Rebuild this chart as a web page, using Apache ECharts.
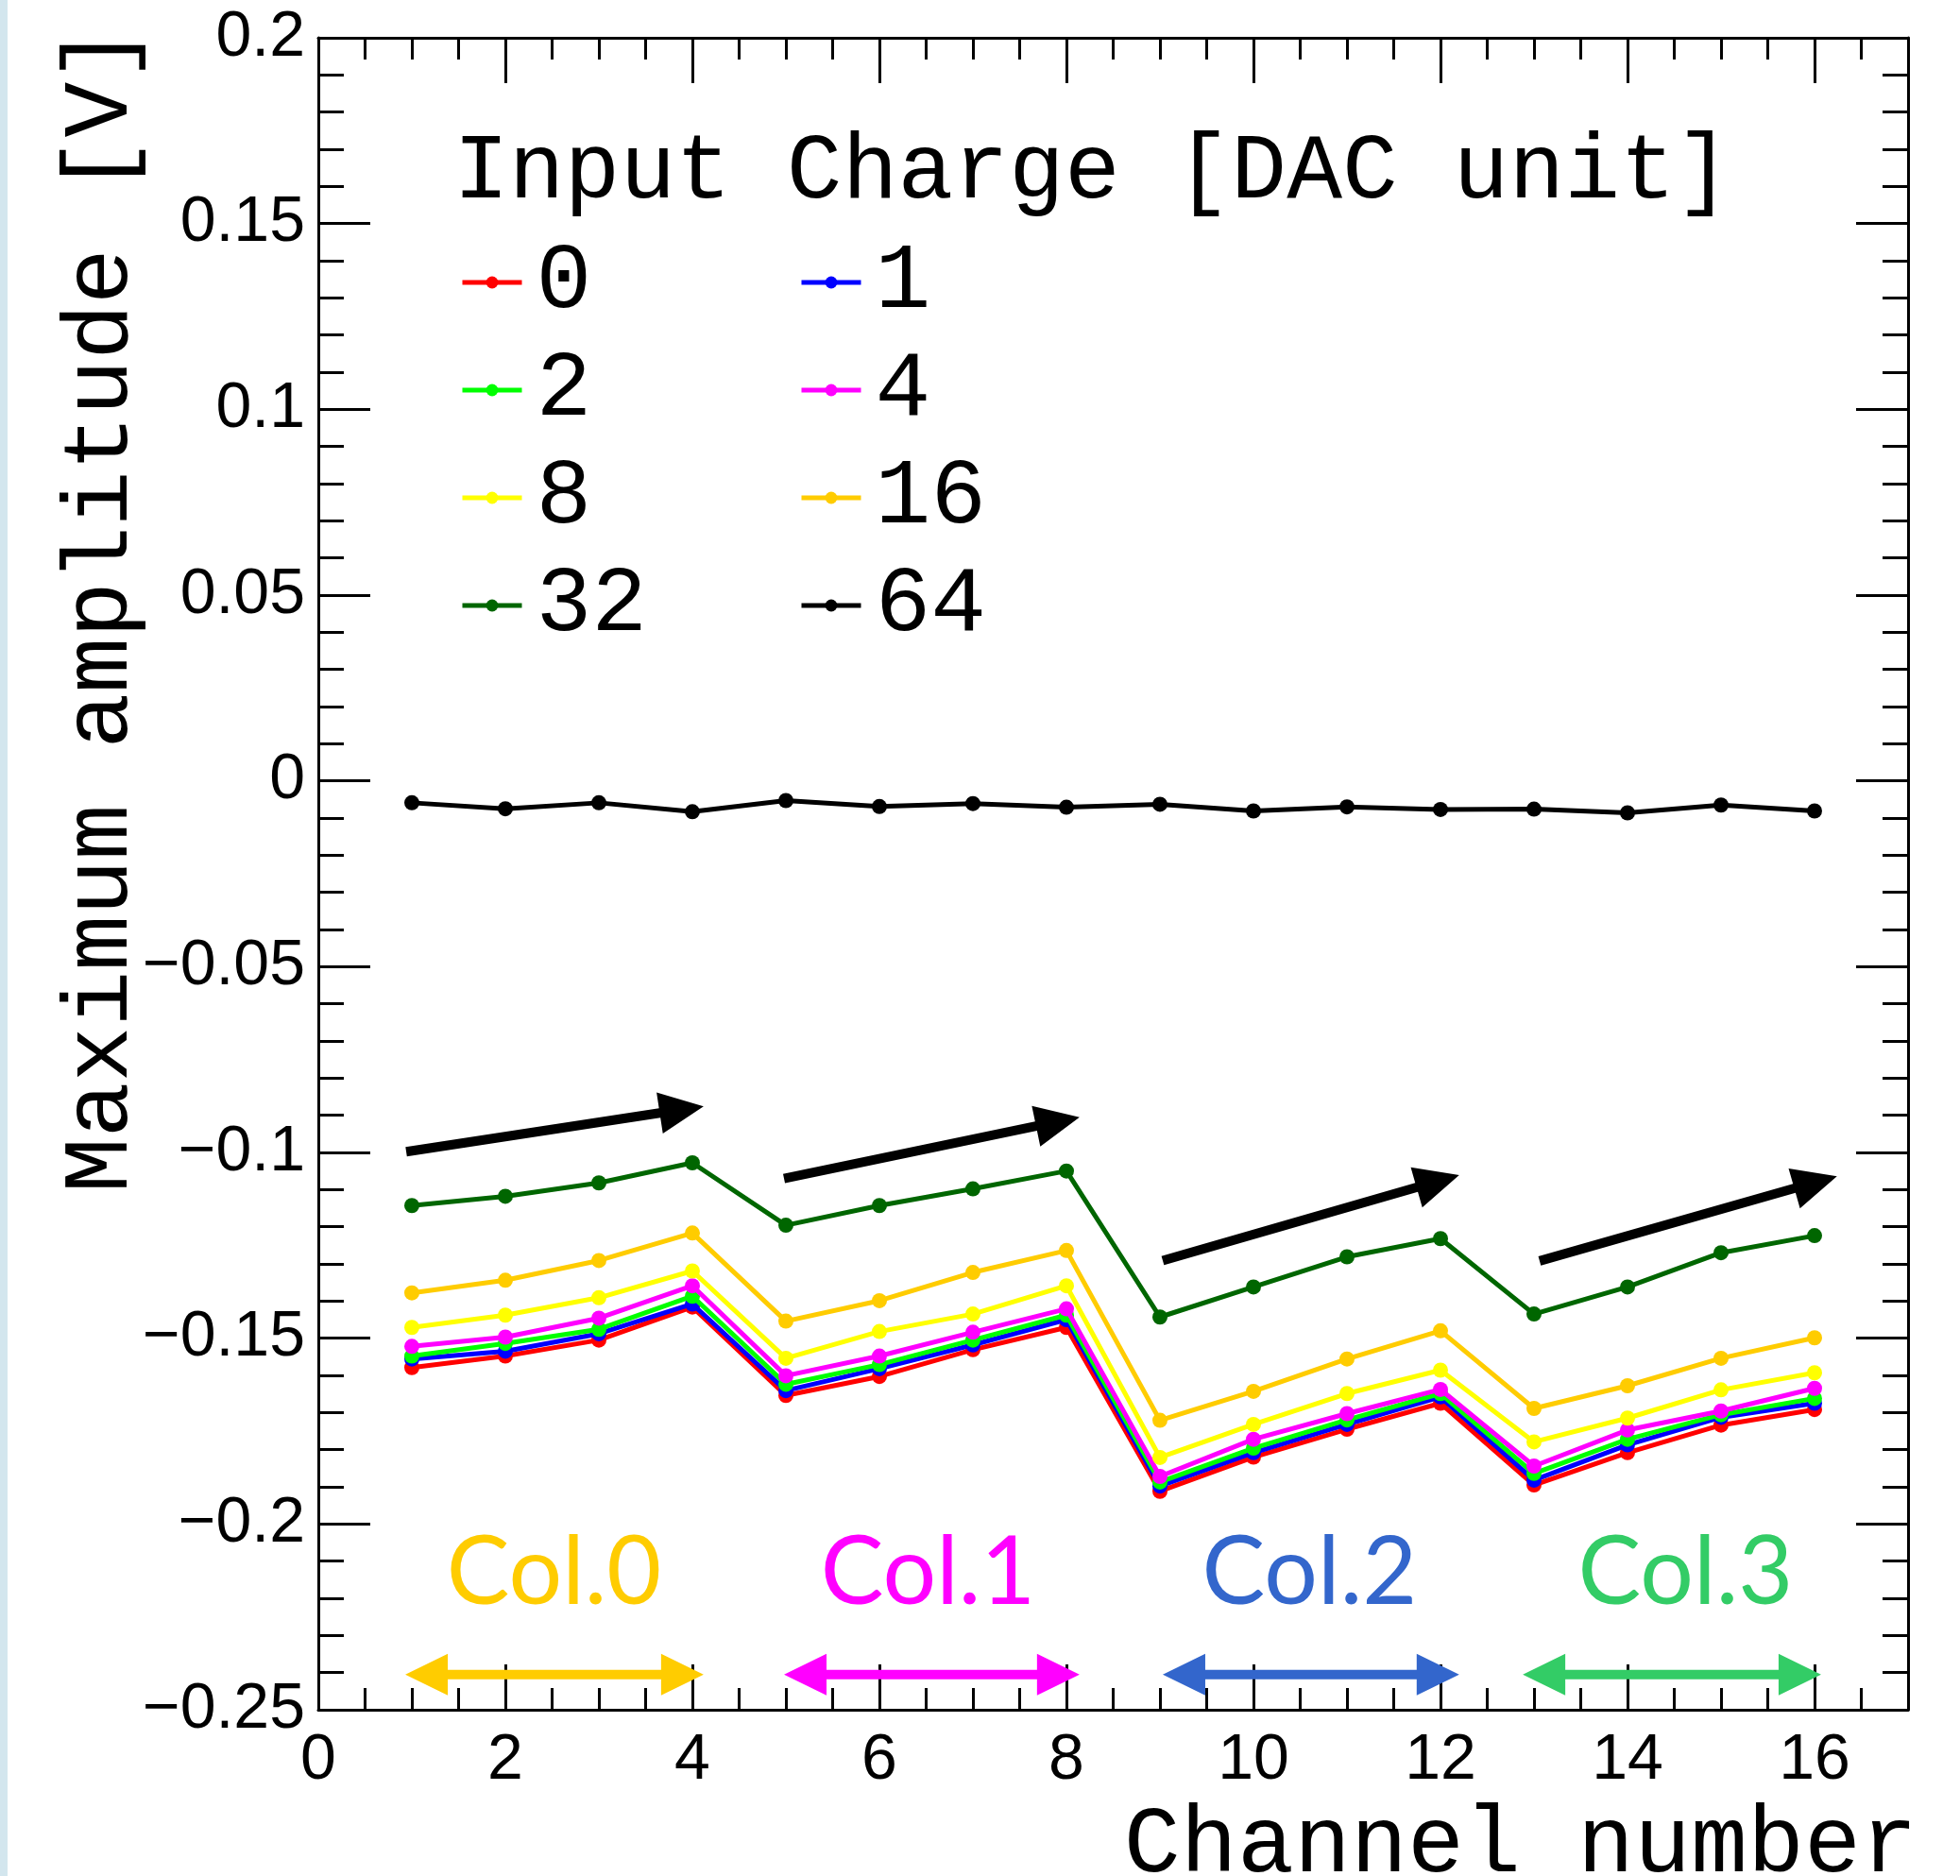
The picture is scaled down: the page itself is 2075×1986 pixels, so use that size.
<!DOCTYPE html>
<html><head><meta charset="utf-8">
<script src="https://cdn.jsdelivr.net/npm/echarts@6/dist/echarts.min.js"></script>
<style>html,body{margin:0;padding:0;background:#fff}#c{width:2075px;height:1986px}</style>
</head><body><div id="c"></div>
<script>
// ---- data ----
const channels = [1,2,3,4,5,6,7,8,9,10,11,12,13,14,15,16];
const chargeNames = ['0','1','2','4','8','16','32','64'];
const q0  = [-0.1579,-0.1548,-0.1505,-0.1416,-0.1654,-0.1603,-0.1531,-0.1471,-0.1912,-0.1820,-0.1745,-0.1675,-0.1895,-0.1808,-0.1734,-0.1692];
const q1  = [-0.1556,-0.1535,-0.1488,-0.1408,-0.1641,-0.1582,-0.1518,-0.1450,-0.1898,-0.1808,-0.1732,-0.1658,-0.1882,-0.1787,-0.1713,-0.1675];
const q2  = [-0.1548,-0.1514,-0.1476,-0.1387,-0.1624,-0.1571,-0.1505,-0.1438,-0.1887,-0.1796,-0.1720,-0.1649,-0.1864,-0.1772,-0.1706,-0.1662];
const q4  = [-0.1522,-0.1497,-0.1446,-0.1359,-0.1601,-0.1548,-0.1484,-0.1421,-0.1872,-0.1772,-0.1703,-0.1638,-0.1844,-0.1747,-0.1696,-0.1635];
const q8  = [-0.1471,-0.1438,-0.1391,-0.1319,-0.1554,-0.1482,-0.1435,-0.1359,-0.1821,-0.1732,-0.1649,-0.1586,-0.1779,-0.1715,-0.1639,-0.1593];
const q16 = [-0.1378,-0.1344,-0.1291,-0.1217,-0.1454,-0.1399,-0.1323,-0.1264,-0.1721,-0.1643,-0.1556,-0.1480,-0.1689,-0.1628,-0.1554,-0.1499];
const q32 = [-0.1143,-0.1118,-0.1082,-0.1028,-0.1196,-0.1143,-0.1098,-0.1050,-0.1443,-0.1362,-0.1281,-0.1232,-0.1435,-0.1362,-0.1270,-0.1224];
const q64 = [-0.0059,-0.0075,-0.0059,-0.0083,-0.0053,-0.0069,-0.0061,-0.0071,-0.0063,-0.0081,-0.0070,-0.0077,-0.0076,-0.0086,-0.0065,-0.0081];
const xMajorTicks = [0,2,4,6,8,10,12,14,16];
const xMinorTicks = [0.5,1,1.5,2.5,3,3.5,4.5,5,5.5,6.5,7,7.5,8.5,9,9.5,10.5,11,11.5,12.5,13,13.5,14.5,15,15.5,16.5];
// annotations (data coordinates)
const trendArrows = [[0.94,-0.0998,4.12,-0.0876],[4.98,-0.1070,8.14,-0.0905],[9.03,-0.1291,12.20,-0.1061],[13.06,-0.1292,16.24,-0.1064]];
const columnArrows = [[0.93,-0.2405,4.12,-0.2405],[4.98,-0.2405,8.14,-0.2405],[9.03,-0.2405,12.20,-0.2405],[12.88,-0.2405,16.07,-0.2405]];
const columnLabels = ['Col.0','Col.1','Col.2','Col.3'];
const columnLabelPos = [[2.52,-0.2132],[6.52,-0.2132],[10.6,-0.2132],[14.62,-0.2132]];

// ---- styles ----
const seriesValues = [q0,q1,q2,q4,q8,q16,q32,q64];
const seriesColors = ['#FF0000','#0000FF','#00FF00','#FF00FF','#FFFF00','#FFCC00','#006600','#000000'];
const colColors = ['#FFCC00','#FF00FF','#3366CC','#33CC66'];
const MONO = '"Liberation Mono", "DejaVu Sans Mono", monospace';
const SANS = '"Liberation Sans", Arial, sans-serif';

function arrowPoints(p1, p2, hw, L, hh, doubleHead) {
  const dx = p2[0]-p1[0], dy = p2[1]-p1[1];
  const len = Math.sqrt(dx*dx+dy*dy);
  const d = [dx/len, dy/len], n = [-d[1], d[0]];
  const P = (b, a, s) => [b[0] + d[0]*a + n[0]*s, b[1] + d[1]*a + n[1]*s];
  if (!doubleHead) {
    return [P(p1,0,hw), P(p2,-L,hw), P(p2,-L,hh), p2, P(p2,-L,-hh), P(p2,-L,-hw), P(p1,0,-hw)];
  }
  return [p1, P(p1,L,hh), P(p1,L,hw), P(p2,-L,hw), P(p2,-L,hh), p2, P(p2,-L,-hh), P(p2,-L,-hw), P(p1,L,-hw), P(p1,L,-hh)];
}

const lineSeries = chargeNames.map((name, k) => ({
  name: name,
  type: 'line',
  xAxisIndex: 0, yAxisIndex: 0,
  data: channels.map((c, i) => [c, seriesValues[k][i]]),
  symbol: 'circle',
  symbolSize: 16,
  lineStyle: { width: 5, color: seriesColors[k] },
  itemStyle: { color: seriesColors[k] },
  z: 3 + k * 0.01
}));

const chart = echarts.init(document.getElementById('c'), null, { renderer: 'canvas' });

const axisLineStyle = { show: true, onZero: false, lineStyle: { color: '#000', width: 3 } };
const noAxisLine = { show: false, onZero: false };
const tickStyle = { color: '#000', width: 3 };
const legendText = { fontFamily: MONO, fontSize: 98, color: '#000', lineHeight: 100, padding: [0, 0, 0, 10] };

const option = {
  backgroundColor: '#ffffff',
  animation: false,
  grid: { left: 337, right: 55, top: 40, bottom: 176, containLabel: false, outerBoundsMode: 'none' },
  title: {
    text: 'Input Charge [DAC unit]',
    left: 480, top: 134, padding: 0,
    textStyle: { fontFamily: MONO, fontSize: 98, fontWeight: 'normal', color: '#000', lineHeight: 98 }
  },
  legend: [
    { data: ['0','2','8','32'], orient: 'vertical', left: 487, top: 249, padding: 0, itemGap: 14,
      itemWidth: 63, itemHeight: 16, selectedMode: false, textStyle: legendText, lineStyle: { width: 5 } },
    { data: ['1','4','16','64'], orient: 'vertical', left: 846, top: 249, padding: 0, itemGap: 14,
      itemWidth: 63, itemHeight: 16, selectedMode: false, textStyle: legendText, lineStyle: { width: 5 } }
  ],
  xAxis: [
    { type: 'value', position: 'bottom', min: 0, max: 17,
      axisLine: axisLineStyle,
      axisTick: { show: true, inside: true, length: 48, lineStyle: tickStyle, customValues: xMajorTicks },
      axisLabel: { show: true, customValues: xMajorTicks, margin: 20, fontFamily: SANS, fontSize: 68, color: '#000' },
      splitLine: { show: false } },
    { type: 'value', position: 'bottom', min: 0, max: 17,
      axisLine: noAxisLine,
      axisTick: { show: true, inside: true, length: 23, lineStyle: tickStyle, customValues: xMinorTicks },
      axisLabel: { show: false }, splitLine: { show: false } },
    { type: 'value', position: 'top', min: 0, max: 17,
      axisLine: axisLineStyle,
      axisTick: { show: true, inside: true, length: 48, lineStyle: tickStyle, customValues: xMajorTicks },
      axisLabel: { show: false }, splitLine: { show: false } },
    { type: 'value', position: 'top', min: 0, max: 17,
      axisLine: noAxisLine,
      axisTick: { show: true, inside: true, length: 23, lineStyle: tickStyle, customValues: xMinorTicks },
      axisLabel: { show: false }, splitLine: { show: false } }
  ],
  yAxis: [
    { type: 'value', position: 'left', min: -0.25, max: 0.2, interval: 0.05,
      axisLine: axisLineStyle,
      axisTick: { show: true, inside: true, length: 55, lineStyle: tickStyle },
      minorTick: { show: true, splitNumber: 5, length: 27, lineStyle: tickStyle },
      axisLabel: { show: true, margin: 14, fontFamily: SANS, fontSize: 68, color: '#000',
        formatter: v => { const r = Math.round(v * 100) / 100; if (r === 0) return '0'; return (r < 0 ? '\u2212' : '') + String(Math.abs(r)); } },
      splitLine: { show: false }, minorSplitLine: { show: false } },
    { type: 'value', position: 'right', min: -0.25, max: 0.2, interval: 0.05,
      axisLine: axisLineStyle,
      axisTick: { show: true, inside: true, length: 55, lineStyle: tickStyle },
      minorTick: { show: true, splitNumber: 5, length: 27, lineStyle: tickStyle },
      axisLabel: { show: false },
      splitLine: { show: false }, minorSplitLine: { show: false } }
  ],
  graphic: [
    { type: 'rect', left: 0, top: 0, shape: { width: 8, height: 1986 }, style: { fill: '#D3E6EE' }, silent: true },
    { type: 'text', x: 108, y: 28, rotation: Math.PI / 2,
      style: { text: 'Maximum amplitude [V]', font: '98px ' + MONO, fill: '#000', align: 'right', verticalAlign: 'middle' } },
    { type: 'text', x: 2030, y: 1955,
      style: { text: 'Channel number', font: '100px ' + MONO, fill: '#000', align: 'right', verticalAlign: 'middle' } }
  ],
  series: lineSeries.concat([
    { type: 'custom', name: 'trend', xAxisIndex: 0, yAxisIndex: 0, z: 10,
      data: trendArrows, encode: { x: [0, 2], y: [1, 3] },
      renderItem: (params, api) => {
        const p1 = api.coord([api.value(0), api.value(1)]);
        const p2 = api.coord([api.value(2), api.value(3)]);
        return { type: 'polygon', shape: { points: arrowPoints(p1, p2, 5, 47, 22, false) }, style: { fill: '#000' } };
      } },
    { type: 'custom', name: 'cols', xAxisIndex: 0, yAxisIndex: 0, z: 10,
      data: columnArrows, encode: { x: [0, 2], y: [1, 3] },
      renderItem: (params, api) => {
        const p1 = api.coord([api.value(0), api.value(1)]);
        const p2 = api.coord([api.value(2), api.value(3)]);
        return { type: 'polygon', shape: { points: arrowPoints(p1, p2, 5, 45, 22, true) }, style: { fill: colColors[params.dataIndex] } };
      } },
    { type: 'custom', name: 'colLabels', xAxisIndex: 0, yAxisIndex: 0, z: 10,
      data: columnLabelPos, encode: { x: 0, y: 1 },
      renderItem: (params, api) => {
        const p = api.coord([api.value(0), api.value(1)]);
        return { type: 'text', x: p[0], y: p[1],
          style: { text: columnLabels[params.dataIndex], font: '100px Lato, "Noto Sans", sans-serif', fill: colColors[params.dataIndex], align: 'center', verticalAlign: 'middle' } };
      } }
  ])
};
chart.setOption(option);
</script>
</body></html>
